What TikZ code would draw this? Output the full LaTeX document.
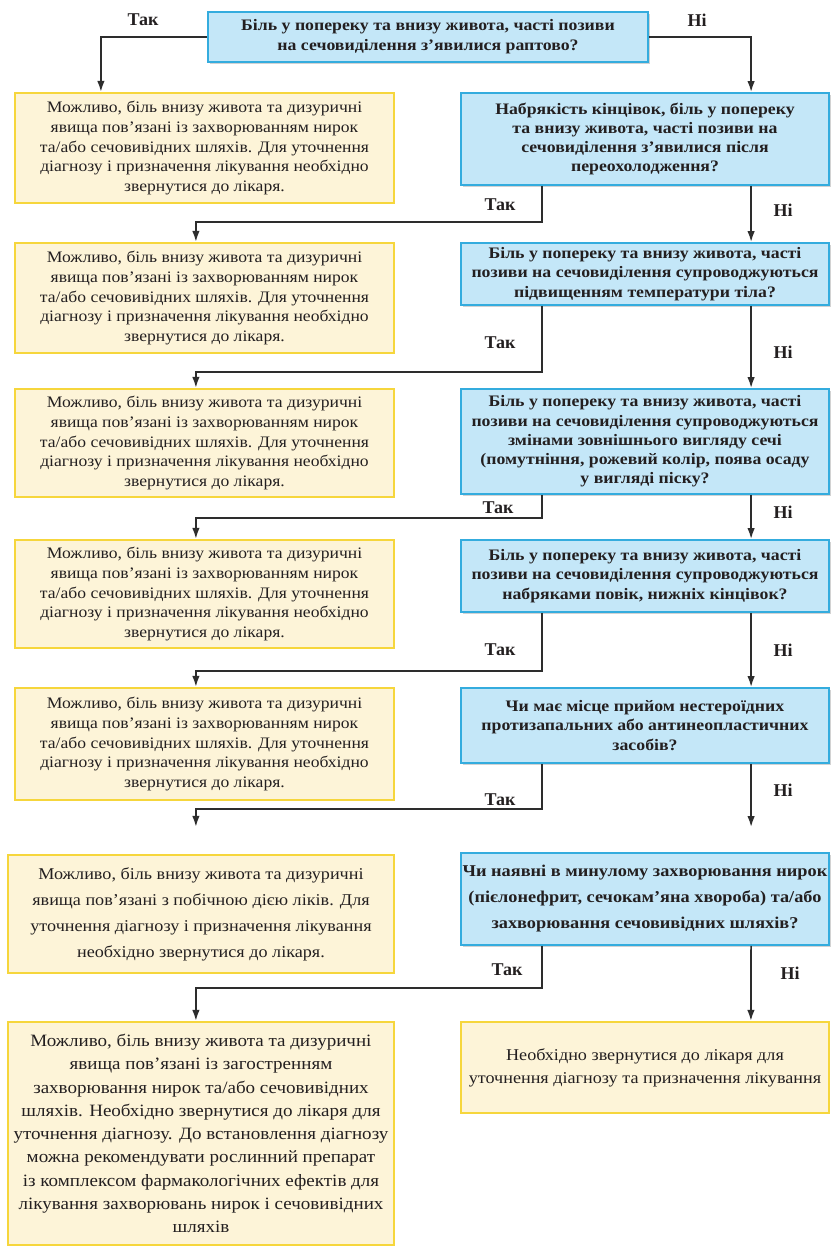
\documentclass[tikz,border=0pt]{standalone}
\usepackage{fontspec}
\setmainfont{Liberation Serif}
\newfontfamily\qfam[FakeStretch=1.11]{Liberation Serif}
\newfontfamily\yfam[FakeStretch=1.1]{Liberation Serif}
\usetikzlibrary{arrows.meta,shadows}
\definecolor{qfill}{RGB}{196,231,248}
\definecolor{qborder}{RGB}{52,172,222}
\definecolor{yfill}{RGB}{253,244,216}
\definecolor{yborder}{RGB}{246,214,60}
\definecolor{txt}{RGB}{35,31,32}
\definecolor{lnc}{RGB}{45,45,45}
\newcommand\fQtop{\qfam\fontsize{16}{20}\selectfont\bfseries}
\newcommand\fQ{\qfam\fontsize{16}{19.3}\selectfont\bfseries}
\newcommand\fQbig{\qfam\fontsize{16.5}{26}\selectfont\bfseries}
\newcommand\fY{\yfam\fontsize{16}{19.7}\selectfont}
\newcommand\fYbig{\yfam\fontsize{16.5}{26}\selectfont}
\newcommand\fYbigb{\yfam\fontsize{17.3}{23.3}\selectfont}
\newcommand\fYbigc{\yfam\fontsize{16.5}{23}\selectfont}
\newcommand\fLab{\fontsize{18}{20}\selectfont\bfseries}
\tikzset{
  qbox/.style={draw=qborder, fill=qfill, line width=1.8pt, align=center, text=txt,
    inner sep=0pt, font=\fQ, drop shadow={shadow xshift=1.5pt, shadow yshift=-1.5pt, opacity=0.35}},
  ybox/.style={draw=yborder, fill=yfill, line width=2.2pt, align=center, text=txt,
    inner sep=0pt, font=\fY},
  lab/.style={font=\fLab, text=txt, inner sep=0pt},
  arr/.style={draw=lnc, line width=1.7pt, -{Latex[length=11pt,width=7.5pt]}},
}
\begin{document}
\begin{tikzpicture}[x=1pt,y=-1pt]
\useasboundingbox[fill=white] (0,0) rectangle (831,1250);

% question boxes
\node[qbox, font=\fQtop, minimum width=440pt, minimum height=50pt] (q1) at (428,37)
  {Біль у попереку та внизу живота, часті позиви\\на сечовиділення з’явилися раптово?};
\node[qbox, minimum width=368pt, minimum height=92pt] (q2) at (645,139)
  {Набрякість кінцівок, біль у попереку\\та внизу живота, часті позиви на\\сечовиділення з’явилися після\\переохолодження?};
\node[qbox, minimum width=368pt, minimum height=62pt] (q3) at (645,274)
  {Біль у попереку та внизу живота, часті\\позиви на сечовиділення супроводжуються\\підвищенням температури тіла?};
\node[qbox, minimum width=368pt, minimum height=105pt] (q4) at (645,441.5)
  {Біль у попереку та внизу живота, часті\\позиви на сечовиділення супроводжуються\\змінами зовнішнього вигляду сечі\\(помутніння, рожевий колір, поява осаду\\у вигляді піску?};
\node[qbox, minimum width=368pt, minimum height=72pt] (q5) at (645,576)
  {Біль у попереку та внизу живота, часті\\позиви на сечовиділення супроводжуються\\набряками повік, нижніх кінцівок?};
\node[qbox, minimum width=368pt, minimum height=75pt] (q6) at (645,725.5)
  {Чи має місце прийом нестероїдних\\протизапальних або антинеопластичних\\засобів?};
\node[qbox, font=\fQbig, minimum width=368pt, minimum height=92pt] (q7) at (645,899)
  {Чи наявні в минулому захворювання нирок\\(пієлонефрит, сечокам’яна хвороба) та/або\\захворювання сечовивідних шляхів?};

% answer boxes
\node[ybox, minimum width=379pt, minimum height=110pt] (y1) at (204.5,148)
  {Можливо, біль внизу живота та дизуричні\\явища пов’язані із захворюванням нирок\\та/або сечовивідних шляхів. Для уточнення\\діагнозу і призначення лікування необхідно\\звернутися до лікаря.};
\node[ybox, minimum width=379pt, minimum height=110pt] (y2) at (204.5,298)
  {Можливо, біль внизу живота та дизуричні\\явища пов’язані із захворюванням нирок\\та/або сечовивідних шляхів. Для уточнення\\діагнозу і призначення лікування необхідно\\звернутися до лікаря.};
\node[ybox, minimum width=379pt, minimum height=108pt] (y3) at (204.5,443)
  {Можливо, біль внизу живота та дизуричні\\явища пов’язані із захворюванням нирок\\та/або сечовивідних шляхів. Для уточнення\\діагнозу і призначення лікування необхідно\\звернутися до лікаря.};
\node[ybox, minimum width=379pt, minimum height=108pt] (y4) at (204.5,594)
  {Можливо, біль внизу живота та дизуричні\\явища пов’язані із захворюванням нирок\\та/або сечовивідних шляхів. Для уточнення\\діагнозу і призначення лікування необхідно\\звернутися до лікаря.};
\node[ybox, minimum width=379pt, minimum height=112pt] (y5) at (204.5,744)
  {Можливо, біль внизу живота та дизуричні\\явища пов’язані із захворюванням нирок\\та/або сечовивідних шляхів. Для уточнення\\діагнозу і призначення лікування необхідно\\звернутися до лікаря.};
\node[ybox, font=\fYbig, minimum width=386pt, minimum height=118pt] (y6) at (201,914)
  {Можливо, біль внизу живота та дизуричні\\явища пов’язані з побічною дією ліків. Для\\уточнення діагнозу і призначення лікування\\необхідно звернутися до лікаря.};
\node[ybox, font=\fYbigb, minimum width=386pt, minimum height=223pt] (y7) at (201,1133.5)
  {Можливо, біль внизу живота та дизуричні\\явища пов’язані із загостренням\\захворювання нирок та/або сечовивідних\\шляхів. Необхідно звернутися до лікаря для\\уточнення діагнозу. До встановлення діагнозу\\можна рекомендувати рослинний препарат\\із комплексом фармакологічних ефектів для\\лікування захворювань нирок і сечовивідних\\шляхів};
\node[ybox, font=\fYbigc, minimum width=368pt, minimum height=91pt] (y8) at (645,1067.5)
  {Необхідно звернутися до лікаря для\\уточнення діагнозу та призначення лікування};

% labels
\node[lab] (t1) at (143,20) {Так};
\node[lab] (n1) at (697,20) {Ні};
\node[lab] (t2) at (500,205) {Так};
\node[lab] (n2) at (783,210) {Ні};
\node[lab] (t3) at (500,343) {Так};
\node[lab] (n3) at (783,352) {Ні};
\node[lab] (t4) at (498,508) {Так};
\node[lab] (n4) at (783,512) {Ні};
\node[lab] (t5) at (500,650) {Так};
\node[lab] (n5) at (783,650) {Ні};
\node[lab] (t6) at (500,800) {Так};
\node[lab] (n6) at (783,790) {Ні};
\node[lab] (t7) at (507,970) {Так};
\node[lab] (n7) at (790,973) {Ні};

% connectors
\draw[arr] (q1.west) -| ([xshift=87pt]y1.north west);
\draw[arr] (q1.east) -| ([xshift=291pt]q2.north west);

\draw[arr] ([xshift=82pt]q2.south west) -- ++(0,36) -| ([xshift=182pt]y2.north west);
\draw[arr] ([xshift=291pt]q2.south west) -- ([xshift=291pt]q3.north west);

\draw[arr] ([xshift=82pt]q3.south west) -- ++(0,66) -| ([xshift=182pt]y3.north west);
\draw[arr] ([xshift=291pt]q3.south west) -- ([xshift=291pt]q4.north west);

\draw[arr] ([xshift=82pt]q4.south west) -- ++(0,23) -| ([xshift=182pt]y4.north west);
\draw[arr] ([xshift=291pt]q4.south west) -- ([xshift=291pt]q5.north west);

\draw[arr] ([xshift=82pt]q5.south west) -- ++(0,58) -| ([xshift=182pt]y5.north west);
\draw[arr] ([xshift=291pt]q5.south west) -- ([xshift=291pt]q6.north west);

\draw[arr, shorten >=27pt] ([xshift=82pt]q6.south west) -- ++(0,45) -| ([xshift=189pt]y6.north west);
\draw[arr, shorten >=25pt] ([xshift=291pt]q6.south west) -- ([xshift=291pt]q7.north west);

\draw[arr] ([xshift=82pt]q7.south west) -- ++(0,42) -| ([xshift=189pt]y7.north west);
\draw[arr] ([xshift=291pt]q7.south west) -- ([xshift=291pt]y8.north west);
\end{tikzpicture}
\end{document}
